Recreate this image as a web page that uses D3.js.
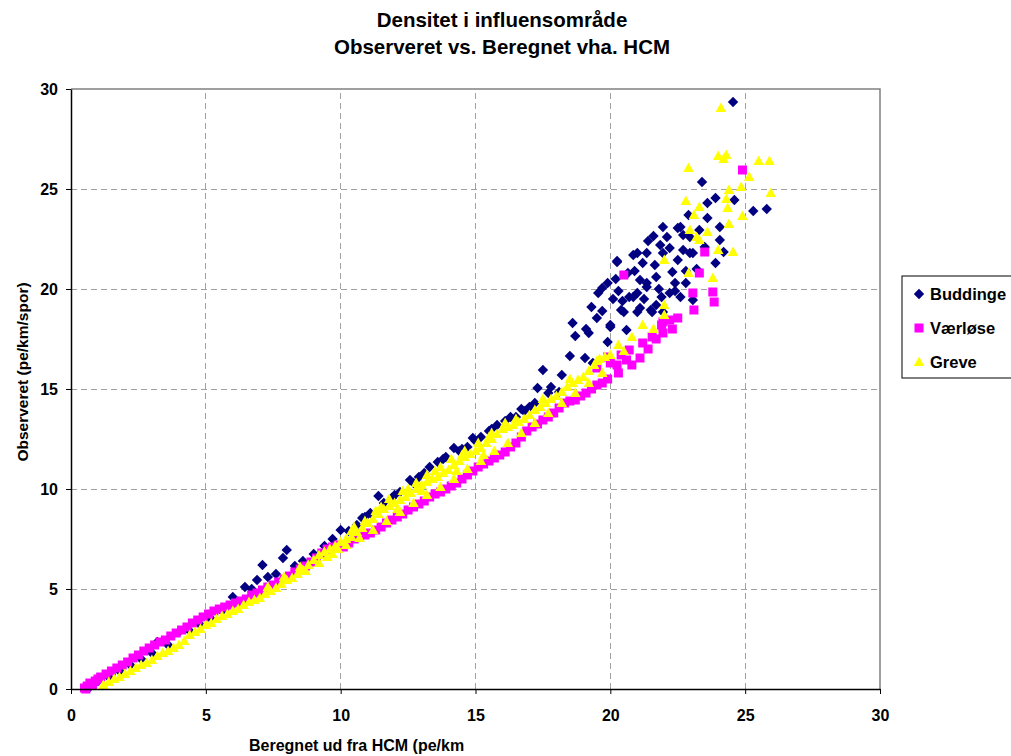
<!DOCTYPE html>
<html>
<head>
<meta charset="utf-8">
<script src="https://cdn.jsdelivr.net/npm/d3@7"></script>
<style>
  body { margin: 0; background: #fff; }
  text { font-family: "Liberation Sans", Arial, sans-serif; font-weight: bold; fill: #000; }
</style>
</head>
<body>
<div class="canvas"></div>
<script>
// tick values and series names
const xTicks = [0, 5, 10, 15, 20, 25, 30];
const yTicks = [0, 5, 10, 15, 20, 25, 30];
const seriesNames = ['Buddinge', 'Værløse', 'Greve'];

// Buddinge: [beregnet, observeret]
const buddinge = [
  [0.7,0.1],[1.0,0.4],[1.4,0.6],[1.8,0.9],[2.2,1.2],[2.6,1.5],[3.0,1.8],[3.2,2.35],[3.6,2.2],[4.0,2.85],
  [4.4,2.9],[4.8,3.2],[5.2,3.5],[5.6,3.9],[6.0,4.6],[6.2,4.3],[6.45,5.1],[6.7,5.0],[6.9,5.45],[7.1,6.2],
  [7.3,5.6],[7.6,5.75],[7.86,6.55],[8.0,6.95],[8.3,6.15],[8.6,6.4],[9.0,6.75],[9.4,7.15],[9.7,7.5],[10.0,7.95],
  [10.3,7.9],[10.6,8.2],[10.8,8.55],[11.1,8.8],[11.4,9.65],[11.6,9.3],[11.9,9.55],[12.2,9.85],[12.57,10.45],[12.9,10.6],
  [13.3,11.1],[13.6,11.35],[13.9,11.6],[14.2,12.05],[14.5,12.0],[14.7,12.1],[14.9,12.55],[15.2,12.6],[15.5,12.9],[15.8,13.2],
  [16.1,13.4],[16.5,13.6],[16.8,13.9],[17.0,14.1],[17.3,15.05],[17.5,15.95],[17.8,15.1],[18.1,14.85],[18.2,15.7],[18.5,16.65],
  [18.7,17.65],[19.06,16.55],[19.35,16.3],[19.3,19.1],[19.5,18.55],[19.7,20.05],[19.9,20.3],[19.9,17.35],[20.0,18.1],[20.0,18.2],
  [20.25,21.35],[20.5,18.85],[20.6,17.95],[20.7,19.6],[20.85,21.7],[21.0,19.8],[21.1,19.05],[21.2,21.3],[21.35,20.1],[21.55,18.85],
  [21.65,21.2],[21.9,19.6],[21.95,21.8],[24.55,29.35],[23.4,25.35],[23.9,24.55],[25.3,23.9],[25.8,24.0],[22.9,23.7],[23.6,23.55],
  [21.95,23.1],[22.5,23.05],[21.6,22.65],[24.06,22.45],[20.25,21.4],[21.0,21.8],[21.35,21.8],[21.85,22.2],[22.2,22.05],[22.7,21.95],
  [23.06,21.8],[24.2,21.85],[23.9,21.3],[19.55,19.8],[20.4,18.95],[20.85,19.6],[21.35,20.3],[21.7,20.6],[22.3,20.85],[22.95,21.8],
  [23.06,19.45],[22.2,19.8],[21.5,18.95],[21.0,18.85],[21.95,18.85],[22.6,19.6],[20.65,20.8],[21.1,20.45],[22.5,21.45],[22.95,22.6],
  [24.6,24.45],[23.6,24.3],[24.06,23.1],[22.6,23.1],[23.3,22.95],[18.6,18.3],[19.2,17.8],[20.3,19.9],[21.8,20.0],[22.4,20.3],
  [22.8,20.9],[23.5,22.1],[20.1,19.5],[20.9,20.9],[21.4,22.4],[22.1,22.6],[19.1,18.0],[19.7,18.9],[20.2,20.5],[20.45,19.4],
  [21.25,19.5],[21.7,19.2],[22.4,19.9],[22.8,20.3],[23.2,21.0],[22.7,22.7],
  [10.9,8.6],[12.0,9.7],[12.7,10.3],[13.1,10.8],[13.8,11.5],[14.4,11.9],[15.0,12.4],[15.6,13.0],[16.3,13.6],[16.7,14.0],
  [17.2,14.3],[17.7,14.8]
];

// Værløse
const vaerloese = [
  [0.5,0.05],[0.55,0.0],[0.6,0.15],[0.7,0.3],[0.8,0.2],[0.9,0.4],[1.0,0.5],[1.1,0.6],[1.3,0.75],[1.5,0.9],
  [1.7,1.05],[1.9,1.2],[2.1,1.35],[2.3,1.55],[2.5,1.7],[2.7,1.9],[2.9,2.05],[3.1,2.2],[3.3,2.35],[3.5,2.45],
  [3.7,2.65],[3.9,2.8],[4.1,2.95],[4.3,3.1],[4.5,3.3],[4.7,3.45],[4.9,3.6],[5.1,3.75],[5.3,3.9],[5.5,4.0],
  [5.7,4.1],[5.9,4.2],[6.1,4.3],[6.3,4.4],[6.5,4.5],[6.7,4.7],[6.9,4.8],[7.1,4.95],[7.3,5.1],[7.5,5.2],
  [7.7,5.35],[7.9,5.5],[8.1,5.65],[8.3,5.85],[8.5,6.0],[8.7,6.15],[8.9,6.35],[9.1,6.55],[9.3,6.8],[9.5,7.0],
  [9.7,7.1],[9.9,7.2],[10.1,7.1],[10.3,7.3],[10.5,7.5],[10.7,7.6],[10.9,7.7],[11.1,7.8],[11.3,7.95],[11.5,8.1],
  [11.7,8.3],[11.9,8.45],[12.1,8.6],[12.3,8.75],[12.5,8.95],[12.7,9.1],[12.9,9.25],[13.1,9.4],[13.3,9.6],[13.5,9.75],
  [13.7,9.85],[13.9,10.0],[14.1,10.15],[14.3,10.3],[14.5,10.5],[14.7,10.7],[14.9,10.9],[15.1,11.1],[15.3,11.25],[15.5,11.4],
  [15.7,11.55],[15.9,11.7],[16.1,11.85],[16.3,12.1],[16.5,12.3],[16.7,12.6],[16.9,12.9],[17.1,13.1],[17.3,13.25],[17.5,13.45],
  [17.7,13.6],[17.9,13.8],[18.1,14.05],[18.3,14.3],[18.5,14.4],[18.7,14.45],[18.9,14.65],[19.1,14.8],[19.3,15.0],[19.5,15.2],
  [19.7,15.3],[19.9,15.5],[19.5,16.05],[19.9,16.6],[20.25,16.2],[20.3,15.8],[20.0,16.3],[20.4,16.7],[20.6,16.45],[20.7,16.95],
  [20.8,16.2],[21.1,16.55],[21.2,17.3],[21.4,17.0],[21.55,17.6],[21.7,17.5],[21.95,17.8],[21.95,18.35],[21.9,18.2],[22.2,18.45],
  [22.3,18.0],[22.5,18.55],[23.1,18.95],[23.06,19.8],[23.8,19.85],[23.85,19.35],[23.3,20.8],[23.5,21.85],[20.5,20.7],[24.9,25.95]
];

// Greve
const greve = [
  [1.2,0.2],[1.4,0.35],[1.6,0.5],[1.8,0.6],[2.0,0.75],[2.2,0.9],[2.4,1.05],[2.6,1.2],[2.8,1.3],[3.0,1.45],
  [3.2,1.65],[3.4,1.8],[3.6,1.9],[3.8,2.05],[4.0,2.2],[4.2,2.4],[4.4,2.7],[4.6,2.85],[4.8,3.0],[5.0,3.2],
  [5.2,3.3],[5.4,3.5],[5.6,3.65],[5.8,3.75],[6.0,3.9],[6.2,4.0],[6.4,4.2],[6.6,4.35],[6.8,4.45],[7.0,4.55],
  [7.2,4.75],[7.4,4.9],[7.6,5.05],[7.8,5.25],[8.0,5.45],[8.2,5.55],[8.4,5.75],[8.6,5.95],[8.8,6.2],[9.0,6.45],
  [9.2,6.7],[9.4,6.85],[9.6,7.0],[9.8,7.15],[10.0,7.35],[10.2,7.5],[10.4,7.6],[10.6,7.85],[10.8,8.05],[11.0,8.3],
  [11.2,8.5],[11.4,8.75],[11.6,9.0],[11.8,9.15],[12.0,9.3],[12.2,9.45],[12.4,9.6],[12.6,9.8],[12.8,10.0],[13.0,10.2],
  [13.2,10.35],[13.4,10.5],[13.6,10.6],[13.8,10.8],[14.0,10.95],[14.2,11.2],[14.4,11.4],[14.6,11.6],[14.8,11.75],[15.0,11.9],
  [15.2,12.05],[15.4,12.3],[15.6,12.5],[15.8,12.75],[16.0,13.0],[16.2,13.1],[16.4,13.2],[16.6,13.35],[16.8,13.5],[17.0,13.7],
  [17.2,13.95],[17.4,14.1],[17.6,14.3],[17.8,14.5],[18.0,14.65],[18.2,14.85],[18.4,15.1],[18.6,15.3],[18.8,15.45],[19.0,15.6],
  [19.2,15.9],[19.4,16.2],[19.6,16.5],[19.8,16.6],[20.0,16.7],
  [10.4,7.9],[10.9,8.4],[11.3,8.9],[11.8,9.5],[12.3,9.9],[12.8,10.3],[13.2,10.7],[13.7,11.1],[14.1,11.5],[14.6,11.9],
  [15.1,12.3],[15.6,12.8],[16.1,13.3],[9.5,6.6],[9.9,7.0],[12.1,9.0],[13.0,9.9],[14.3,10.9],[15.3,11.7],[8.5,6.1],
  [7.9,5.6],[7.3,5.1],
  [8.7,5.9],[9.2,6.3],[9.7,6.75],[10.2,7.2],[10.7,7.55],[11.2,7.95],[11.7,8.4],[12.2,8.85],[12.7,9.3],[13.2,9.7],
  [13.7,10.1],[14.2,10.5],[14.7,11.0],[15.2,11.4],[15.7,11.9],[16.2,12.3],[16.7,12.8],[17.2,13.3],[17.7,13.8],[18.2,14.3],
  [18.7,14.8],[19.2,15.3],[19.7,15.8],
  [10.5,8.1],[11.5,9.1],[12.5,10.0],[13.5,10.9],[14.5,11.7],[15.5,12.6],[16.5,13.5],[17.5,14.5],[18.5,15.5],[19.5,16.4],
  [20.3,17.2],[20.8,17.6],[21.2,18.2],[21.6,18.0],[20.5,16.9],[22.0,18.7],[22.0,19.2],[22.0,21.45],[22.9,20.8],[23.8,20.55],
  [24.0,21.95],[24.55,21.85],[23.2,22.6],[23.3,22.45],[22.95,22.95],[23.6,22.85],[24.4,23.25],[24.9,23.65],[23.1,23.7],[23.3,24.1],
  [24.35,24.05],[22.8,24.4],[24.3,24.5],[24.4,24.95],[24.85,25.1],[25.95,24.8],[25.15,25.6],[22.9,26.05],[25.5,26.4],[25.9,26.4],
  [24.0,26.65],[24.3,26.7],[24.2,26.5],[24.1,29.05]
];

const width = 1011, height = 756;
const margin = { top: 89, right: 131, bottom: 67, left: 71 };

const svg = d3.select('.canvas')
  .append('svg')
    .attr('width', width)
    .attr('height', height);

const x = d3.scaleLinear().domain([0, 30]).range([margin.left, width - margin.right]);
const y = d3.scaleLinear().domain([0, 30]).range([height - margin.bottom, margin.top]);

// dashed grid
const grid = svg.append('g')
  .attr('stroke', '#a0a0a0')
  .attr('stroke-dasharray', '6,4')
  .attr('shape-rendering', 'crispEdges');

grid.selectAll('.vline')
  .data(xTicks.slice(1, -1))
  .enter().append('line')
    .attr('x1', d => x(d)).attr('x2', d => x(d))
    .attr('y1', y(0)).attr('y2', y(30));

grid.selectAll('.hline')
  .data(yTicks.slice(1, -1))
  .enter().append('line')
    .attr('x1', x(0)).attr('x2', x(30))
    .attr('y1', d => y(d)).attr('y2', d => y(d));

// grey frame top/right
svg.append('path')
  .attr('d', `M${x(0)},${y(30)}H${x(30)}V${y(0)}`)
  .attr('fill', 'none')
  .attr('stroke', '#808080')
  .attr('stroke-width', 1.5);

// markers
const diamond = 'M0,-5.2L5.2,0L0,5.2L-5.2,0Z';
const square = 'M-4.5,-4.5H4.5V4.5H-4.5Z';
const triangle = 'M0,-5.5L5.3,4L-5.3,4Z';

const series = [
  { name: seriesNames[0], data: buddinge, color: '#000080', shape: diamond },
  { name: seriesNames[1], data: vaerloese, color: '#FF00FF', shape: square },
  { name: seriesNames[2], data: greve, color: '#FFFF00', shape: triangle }
];

series.forEach(s => {
  svg.append('g').selectAll('path')
    .data(s.data)
    .enter().append('path')
      .attr('d', s.shape)
      .attr('fill', s.color)
      .attr('transform', d => `translate(${x(d[0])},${y(d[1])})`);
});

// axes
const xAxisGroup = svg.append('g').attr('transform', `translate(0, ${y(0)})`);
const yAxisGroup = svg.append('g').attr('transform', `translate(${x(0)}, 0)`);

xAxisGroup.call(d3.axisBottom(x).tickValues(xTicks).tickSize(5).tickSizeOuter(0).tickPadding(16));
yAxisGroup.call(d3.axisLeft(y).tickValues(yTicks).tickSize(5).tickSizeOuter(0).tickPadding(8));

[xAxisGroup, yAxisGroup].forEach(g => {
  g.select('.domain').attr('stroke', '#000').attr('stroke-width', 1.5);
  g.selectAll('.tick line').attr('stroke', '#000');
  g.selectAll('text')
    .attr('font-family', '"Liberation Sans", Arial, sans-serif')
    .attr('font-weight', 'bold')
    .attr('font-size', 16)
    .attr('fill', '#000');
});

// titles
svg.append('text')
  .attr('x', 502).attr('y', 27)
  .attr('text-anchor', 'middle')
  .attr('font-size', 20.5)
  .text('Densitet i influensområde');

svg.append('text')
  .attr('x', 502).attr('y', 54)
  .attr('text-anchor', 'middle')
  .attr('font-size', 20.5)
  .text('Observeret vs. Beregnet vha. HCM');

svg.append('text')
  .attr('x', 249).attr('y', 751)
  .attr('font-size', 16)
  .text('Beregnet ud fra HCM (pe/km');

svg.append('text')
  .attr('transform', 'translate(28, 372) rotate(-90)')
  .attr('text-anchor', 'middle')
  .attr('font-size', 15.5)
  .text('Observeret (pe/km/spor)');

// legend
const legend = svg.append('g').attr('transform', 'translate(902, 276)');
legend.append('rect')
  .attr('width', 130).attr('height', 102)
  .attr('fill', '#fff')
  .attr('stroke', '#000')
  .attr('stroke-width', 1);

legend.selectAll('.item')
  .data(series)
  .enter().append('g')
    .attr('transform', (d, i) => `translate(17, ${18 + i * 34})`)
    .each(function (d) {
      const g = d3.select(this);
      g.append('path').attr('d', d.shape).attr('fill', d.color);
      g.append('text').attr('x', 11).attr('y', 6).attr('font-size', 16.5).text(d.name);
    });
</script>
</body>
</html>
